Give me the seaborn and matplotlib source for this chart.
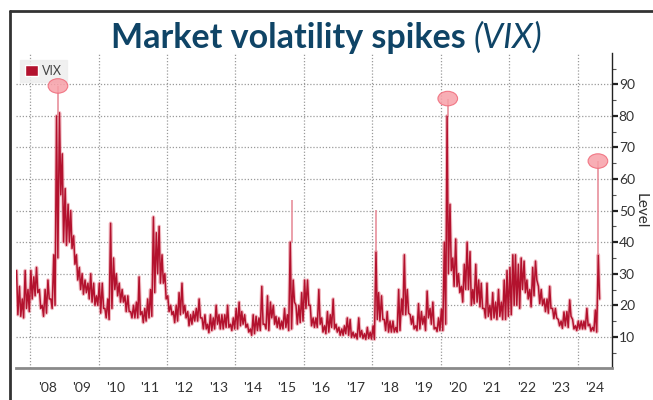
import pandas as pd
import numpy as np
import matplotlib
matplotlib.use('Agg')
import matplotlib.pyplot as plt
import matplotlib.dates as mdates
from matplotlib.patches import Ellipse, Patch
from matplotlib.lines import Line2D
import seaborn as sns

sns.set_style('white')
plt.rcParams['font.family'] = ['Lato', 'DejaVu Sans']

# monthly highs / lows of VIX, Aug 2007 .. Aug 2024
first_month = '2007-08'
vix_high = [
    31, 26, 22, 31, 25,                                        # 2007
    31, 29, 32, 25, 20, 25, 28, 22, 36, 80, 81, 68,            # 2008
    57, 52, 50, 42, 36, 32, 30, 28, 27, 30, 27, 23,            # 2009
    27, 27, 19, 22, 46, 35, 30, 27, 25, 23, 23, 18,            # 2010
    20, 21, 29, 18, 19, 22, 25, 48, 43, 45, 36, 30,            # 2011
    23, 20, 18, 20, 24, 27, 20, 18, 17, 18, 19, 22,            # 2012
    16, 17, 14, 17, 16, 20, 17, 17, 17, 20, 14, 16,            # 2013
    19, 21, 18, 17, 14, 12.5, 17, 16.5, 16, 26, 14, 23,        # 2014
    21, 20, 16.5, 16, 15, 19, 17, 40, 28, 20, 20, 24,          # 2015
    28, 28, 20, 16, 16, 25, 16, 13.5, 18, 17, 22, 14,          # 2016
    13, 12.5, 13.5, 16, 15.5, 11.5, 11, 16, 12, 11, 13, 11.5,  # 2017
    13.5, 37, 24, 23, 15.5, 18, 15, 15, 13, 25, 22, 36,        # 2018
    25, 17, 16.5, 13.5, 20.5, 18, 16.5, 24.5, 19, 21, 13, 16,  # 2019
    18.8, 40, 80, 52, 35, 41, 30, 26, 33, 40, 37, 25,          # 2020
    33, 28, 27, 19, 27, 20, 24, 21, 25, 21, 28, 31,            # 2021
    32, 36, 36, 33, 35, 34, 28, 25, 32, 34, 26, 25,            # 2022
    22, 22, 26, 19, 19, 15.5, 15, 17.9, 18, 21.7, 15.5, 13.5,  # 2023
    15, 15, 15, 19, 14, 13, 18.5, 36,                          # 2024
]
vix_low = [
    17, 16.5, 16, 19, 18,
    22, 23, 24, 19, 16.5, 17.5, 22, 19, 20, 35, 55, 40,
    39, 40, 38, 33, 28, 25, 23.5, 24, 22, 21, 20, 20,
    17.5, 19, 16, 15.5, 19, 25, 23, 21, 21, 18, 18, 16,
    16, 16, 17, 14.5, 15, 16, 16.5, 24, 30, 27, 27, 22,
    18, 17, 14.5, 15, 17, 17.5, 16, 13.5, 14, 15, 15, 16,
    12.5, 12.5, 11.3, 12, 12.5, 14, 12.5, 12.5, 13, 13, 12, 12.5,
    12.5, 13.5, 14, 13, 11.5, 10.5, 11, 12, 12, 14, 12.5, 12,
    16, 14, 13, 12.5, 12.5, 13, 12, 12.5, 21, 14, 14.5, 15,
    19, 20, 13.5, 13, 13, 14, 11.5, 11, 11.5, 13, 12.5, 11.5,
    10.5, 10.5, 11, 10.5, 9.8, 9.8, 9.3, 10, 9.5, 9.2, 9.5, 9.3,
    9.2, 15.5, 15, 15.5, 12, 11.5, 11.5, 11.5, 11.5, 12, 17, 17,
    17.5, 14, 12.5, 12, 12.5, 14, 12, 16, 14, 12.5, 11.7, 12,
    12, 14, 30, 31, 26, 26, 24, 21, 25, 25, 20, 20.5,
    21, 19.5, 19, 16, 16.5, 15.5, 16, 15.5, 16.5, 15.5, 15.5, 16.5,
    17, 20, 20, 19, 25, 24, 22, 19.5, 23, 28, 20.5, 20,
    18, 17.5, 19, 15.8, 16, 13.5, 12.7, 13.5, 13, 16.5, 12.5, 12,
    12.5, 12.5, 12.5, 13.5, 11.8, 11.9, 11.5, 22,
]

# intraday spikes
spike_dates = ['2008-10-24', '2015-08-24', '2018-02-06', '2020-03-16', '2024-08-05']
spike_base = [80, 40, 37, 80, 36]
spike_high = [89.5, 53.3, 50.3, 85.5, 65.7]
spike_marked = [True, False, False, True, True]

years = list(range(2008, 2025))

months = pd.period_range(first_month, periods=len(vix_high), freq='M')
rows = []
for m, h, l in zip(months, vix_high, vix_low):
    rows.append((m.to_timestamp() + pd.Timedelta(days=8), h))
    rows.append((m.to_timestamp() + pd.Timedelta(days=22), l))
df = pd.DataFrame(rows, columns=['date', 'VIX'])

red = '#b3122e'
light = '#e8909c'

fig = plt.figure(figsize=(6.53, 4.0), dpi=100)
ax = fig.add_axes([0.0245, 0.079, 0.9125, 0.789])

sns.lineplot(data=df, x='date', y='VIX', ax=ax, color=light, lw=2.6, alpha=0.6)
sns.lineplot(data=df, x='date', y='VIX', ax=ax, color=red, lw=1.1)
sd = pd.to_datetime(spike_dates)
ax.vlines(sd, spike_base, spike_high, color=light, lw=1.2)
for d, v, mk in zip(sd, spike_high, spike_marked):
    if mk:
        ax.add_patch(Ellipse((mdates.date2num(d), v), 210, 4.6,
                             facecolor='#f7a0a8', edgecolor='#f06878',
                             lw=0.8, alpha=0.85, zorder=7))

ax.set_xlim(pd.Timestamp('2007-08-03'), pd.Timestamp('2025-01-01'))
ax.set_ylim(0, 100)

# grid
for y in range(10, 100, 10):
    ax.axhline(y, color='#9a9a9a', ls=(0, (1, 1.5)), lw=0.9, zorder=0)
for yr in years[::2]:
    ax.axvline(pd.Timestamp(f'{yr}-01-01'), color='#9a9a9a', ls=(0, (1, 1.5)), lw=0.9, zorder=0)

# x axis: year ticks at boundaries, labels mid-year
ax.xaxis.set_major_locator(mdates.YearLocator())
ax.xaxis.set_major_formatter(plt.NullFormatter())
ax.set_xticks([pd.Timestamp(f'{y}-07-02') for y in years], minor=True)
ax.set_xticklabels([f"'{y % 100:02d}" for y in years], minor=True)
ax.tick_params(axis='x', which='major', length=30, width=1, color='#8a8a8a')
ax.tick_params(axis='x', which='minor', length=0, pad=10, labelsize=10, labelcolor='#333333')

# y axis on right
ax.yaxis.tick_right()
ax.yaxis.set_label_position('right')
ax.set_yticks(range(10, 100, 10))
ax.set_yticks(range(5, 100, 10), minor=True)
ax.tick_params(axis='y', which='major', length=4, width=1.6, color='#222222',
               labelsize=10, labelcolor='#333333', pad=1)
ax.tick_params(axis='y', which='minor', length=3, width=0.8, color='#555555', right=True)
ax.set_ylabel('Level', rotation=270, labelpad=9, fontsize=11, color='#333333')
ax.set_xlabel('')

for s in ['top', 'left']:
    ax.spines[s].set_visible(False)
ax.spines['right'].set_color('#222222')
ax.spines['right'].set_linewidth(1)
ax.spines['bottom'].set_color('#8a8a8a')
ax.spines['bottom'].set_linewidth(2)

leg = ax.legend(handles=[Patch(facecolor=red, label='VIX')], loc='upper left',
                bbox_to_anchor=(-0.003, 0.997), fontsize=9, frameon=True,
                handlelength=1.0, handleheight=1.0, handletextpad=0.35,
                borderpad=0.4, fancybox=False)
leg.get_frame().set_facecolor('#ededed')
leg.get_frame().set_edgecolor('#ededed')
for t in leg.get_texts():
    t.set_color('#444444')

# title: bold part + italic part
navy = '#0f4466'
t1 = fig.text(0, 0.88, 'Market volatility spikes ', fontsize=24.5, fontweight='bold',
              color=navy, va='baseline', ha='left')
t2 = fig.text(0, 0.88, '(VIX)', fontsize=24.5, fontstyle='italic', color=navy,
              va='baseline', ha='left')
fig.canvas.draw()
r = fig.canvas.get_renderer()
w1 = t1.get_window_extent(r).width / fig.bbox.width
w2 = t2.get_window_extent(r).width / fig.bbox.width
x0 = 0.5 - (w1 + w2) / 2
t1.set_x(x0)
t2.set_x(x0 + w1)

# screenshot frame on left and top
fig.add_artist(Line2D([0.015, 0.015], [0, 0.972], color='#333333', lw=2, transform=fig.transFigure))
fig.add_artist(Line2D([0.015, 1], [0.972, 0.972], color='#333333', lw=2, transform=fig.transFigure))

fig.savefig('out.png', dpi=100)
